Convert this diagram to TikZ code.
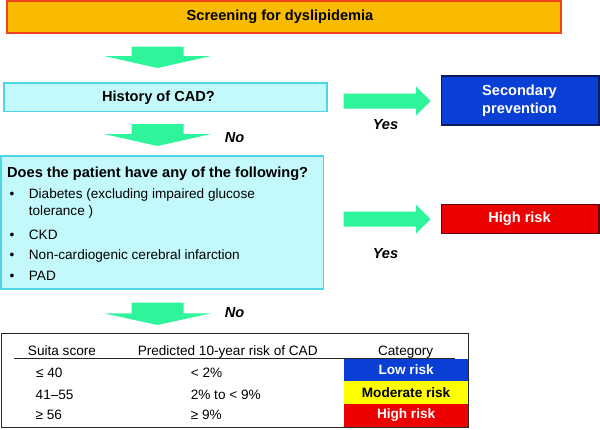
\documentclass[tikz,border=0pt]{standalone}
\usepackage{fontspec}
\setmainfont{Liberation Sans}
\definecolor{orfill}{HTML}{F9BB00}
\definecolor{ordraw}{HTML}{EE4422}
\definecolor{cyfill}{HTML}{C4F9FC}
\definecolor{cydraw}{HTML}{4BD7E6}
\definecolor{agreen}{HTML}{2EF59C}
\definecolor{bfill}{HTML}{0A3FD6}
\definecolor{bdraw}{HTML}{0A1A5A}
\definecolor{rfill}{HTML}{EE0000}
\definecolor{rdraw}{HTML}{5A0A0A}
\definecolor{yfill}{HTML}{FFFF00}
\begin{document}
\begin{tikzpicture}[x=1pt,y=-1pt,
  garrow/.style={fill=agreen, draw=none},
  boxbase/.style={inner sep=0pt, line width=1.2pt},
  btxt/.style={inner sep=0pt, font=\fontsize{14.6}{17}\selectfont\bfseries},
  rtxt/.style={inner sep=0pt, font=\fontsize{13.6}{16}\selectfont},
  yn/.style={inner sep=0pt, font=\fontsize{14.6}{17}\selectfont\bfseries\itshape},
  cell/.style={inner sep=0pt, draw=none, minimum width=124.8pt, minimum height=22.7pt, font=\fontsize{13.6}{16}\selectfont\bfseries}]
\useasboundingbox (0,0) rectangle (600,429);
\fill[white] (0,0) rectangle (600,429);

% top box
\node[boxbase, draw=ordraw, fill=orfill, minimum width=554pt, minimum height=32pt] (screen) at (284,17) {};
\node[btxt] (screent) at (280,17) {Screening for dyslipidemia};

% arrow 1 down
\fill[garrow] (131.5,46.5) -- (183.5,46.5) -- (183.5,56) -- (211,56) -- (157.5,68) -- (104,56) -- (131.5,56) -- cycle;

% history box
\node[boxbase, draw=cydraw, fill=cyfill, minimum width=323pt, minimum height=28.5pt] (hist) at (165.4,97.2) {};
\node[btxt] (histt) at (158.5,97.5) {History of CAD?};

% right arrow 1
\fill[garrow] (343.5,93.5) -- (416,93.5) -- (416,86.5) -- (430.5,101) -- (416,115.5) -- (416,108.5) -- (343.5,108.5) -- cycle;
\node[yn] (yes1) at (385.5,125) {Yes};

% secondary prevention
\node[boxbase, draw=bdraw, fill=bfill, minimum width=157.5pt, minimum height=49pt] (sec) at (520.2,100.5) {};
\node[btxt, text=white, align=center, font=\fontsize{14.6}{18}\selectfont\bfseries] (sect) at (519.5,101) {Secondary\\prevention};

% arrow 2 down
\fill[garrow] (131.5,124) -- (183.5,124) -- (183.5,134) -- (211,134) -- (157.5,146) -- (104,134) -- (131.5,134) -- cycle;
\node[yn] (no1) at (234.5,137.5) {No};

% big box
\node[boxbase, draw=cydraw, fill=cyfill, minimum width=322.5pt, minimum height=133pt] (big) at (162.2,222.5) {};
\node[btxt, anchor=base west] (q) at (7,177) {Does the patient have any of the following?};
\node[rtxt, anchor=base] (b1) at (12,198.5) {•};
\node[rtxt, anchor=base west] (l1) at (28.7,198.5) {Diabetes (excluding impaired glucose};
\node[rtxt, anchor=base west] (l1b) at (28.7,215.7) {tolerance )};
\node[rtxt, anchor=base] (b2) at (12,239.7) {•};
\node[rtxt, anchor=base west] (l2) at (28.7,239.7) {CKD};
\node[rtxt, anchor=base] (b3) at (12,259.7) {•};
\node[rtxt, anchor=base west] (l3) at (28.7,259.7) {Non-cardiogenic cerebral infarction};
\node[rtxt, anchor=base] (b4) at (12,280.7) {•};
\node[rtxt, anchor=base west] (l4) at (28.7,280.7) {PAD};

% right arrow 2
\fill[garrow] (343.5,211.5) -- (416,211.5) -- (416,204.5) -- (430.5,219) -- (416,233.5) -- (416,226.5) -- (343.5,226.5) -- cycle;
\node[yn] (yes2) at (385.5,254) {Yes};

% high risk box
\node[boxbase, draw=rdraw, fill=rfill, minimum width=157.5pt, minimum height=29pt] (hr) at (520.2,218.8) {};
\node[btxt, text=white] (hrt) at (519.5,219) {High risk};

% arrow 3 down
\fill[garrow] (131.5,302.7) -- (183.5,302.7) -- (183.5,313.3) -- (211,313.3) -- (157.5,325) -- (104,313.3) -- (131.5,313.3) -- cycle;
\node[yn] (no2) at (234.5,313) {No};

% table cells
\node[cell, fill=bfill, text=white] (c1) at (406.1,370.1) {Low risk};
\node[cell, fill=yfill, text=black] (c2) at (406.1,392.8) {Moderate risk};
\node[cell, fill=rfill, text=white] (c3) at (406.1,415.5) {High risk};
% table frame
\node[boxbase, draw=black!85, line width=1pt, minimum width=467pt, minimum height=94.7pt] (tab) at (235,380.6) {};
\coordinate (hl) at (14,358.3);
\coordinate (hr2) at (455,358.3);
\draw[line width=1.5pt, black!85] (hl) -- (hr2);
\node[rtxt, anchor=base] (h1) at (62,355) {Suita score};
\node[rtxt, anchor=base] (h2) at (227.7,355) {Predicted 10-year risk of CAD};
\node[rtxt, anchor=base] (h3) at (405.7,355) {Category};
\node[rtxt, anchor=base west] (r1a) at (36,377.5) {≤ 40};
\node[rtxt, anchor=base west] (r2a) at (35.5,399.3) {41–55};
\node[rtxt, anchor=base west] (r3a) at (35.5,419.5) {≥ 56};
\node[rtxt, anchor=base west] (r1b) at (190.6,377.5) {< 2\%};
\node[rtxt, anchor=base west] (r2b) at (190.6,399.3) {2\% to < 9\%};
\node[rtxt, anchor=base west] (r3b) at (190.6,419.5) {≥ 9\%};
\end{tikzpicture}
\end{document}
